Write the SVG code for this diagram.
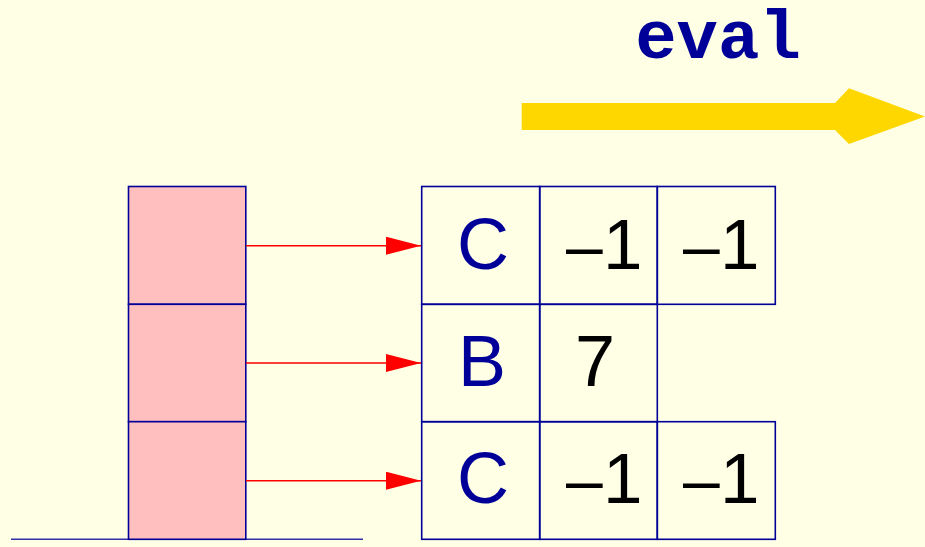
<svg xmlns="http://www.w3.org/2000/svg" width="925" height="547" viewBox="0 0 925 547">
<defs>
<style>
.cell{fill:none;stroke:#000099;stroke-width:1.6}
.stk{fill:#FFBFBF;stroke:#000099;stroke-width:1.6}
.lbl{font-family:"Liberation Sans",Arial,sans-serif;font-size:72px;text-anchor:middle}
.num{font-family:"Liberation Sans",Arial,sans-serif;font-size:71px;fill:#000000}
.dash{font-size:66px}
.blue{fill:#000099}
.blk{fill:#000000}
.conn{stroke:#FF0000;stroke-width:1.6;fill:none;marker-end:url(#ah)}
</style>
<marker id="ah" markerUnits="userSpaceOnUse" markerWidth="36" markerHeight="20" refX="35" refY="9" orient="auto">
<path d="M0,0 L35,9 L0,18 Z" fill="#FF0000"/>
</marker>
</defs>
<rect width="925" height="547" fill="#FFFFE6"/>
<g id="eval">
<text x="718" y="58" font-family="'Liberation Mono','Courier New',monospace" font-weight="bold" font-size="69" fill="#000099" text-anchor="middle">eval</text>
<polygon points="521.7,103 835,103 849,88.3 925,116.5 849,144 835,130 521.7,130" fill="#FFD700"/>
</g>
<g id="stack">
<line x1="11" y1="539.3" x2="363" y2="539.3" stroke="#000099" stroke-width="1.6" opacity="0.8"/>
<rect class="stk" x="128.5" y="186.5" width="117.3" height="117.8"/>
<rect class="stk" x="128.5" y="304.3" width="117.3" height="117.4"/>
<rect class="stk" x="128.5" y="421.7" width="117.3" height="117.6"/>
</g>
<g id="connectors">
<line class="conn" x1="246" y1="245.7" x2="421" y2="245.7"/>
<line class="conn" x1="246" y1="363" x2="421" y2="363"/>
<line class="conn" x1="246" y1="480.7" x2="421" y2="480.7"/>
</g>
<g id="row1">
<rect class="cell" x="421.7" y="186.5" width="118" height="117.8"/>
<rect class="cell" x="539.7" y="186.5" width="117.6" height="117.8"/>
<rect class="cell" x="657.3" y="186.5" width="118" height="117.8"/>
<text class="lbl blue" x="483" y="269">C</text>
<text class="num" y="269"><tspan class="dash" x="566">–</tspan><tspan x="603">1</tspan></text>
<text class="num" y="269"><tspan class="dash" x="683">–</tspan><tspan x="720">1</tspan></text>
</g>
<g id="row2">
<rect class="cell" x="421.7" y="304.3" width="118" height="117.4"/>
<rect class="cell" x="539.7" y="304.3" width="117.6" height="117.4"/>
<text class="lbl blue" x="482" y="386">B</text>
<text class="lbl blk" x="595" y="386">7</text>
</g>
<g id="row3">
<rect class="cell" x="421.7" y="421.7" width="118" height="117.6"/>
<rect class="cell" x="539.7" y="421.7" width="117.6" height="117.6"/>
<rect class="cell" x="657.3" y="421.7" width="118" height="117.6"/>
<text class="lbl blue" x="483" y="503">C</text>
<text class="num" y="503"><tspan class="dash" x="566">–</tspan><tspan x="603">1</tspan></text>
<text class="num" y="503"><tspan class="dash" x="683">–</tspan><tspan x="720">1</tspan></text>
</g>
</svg>
